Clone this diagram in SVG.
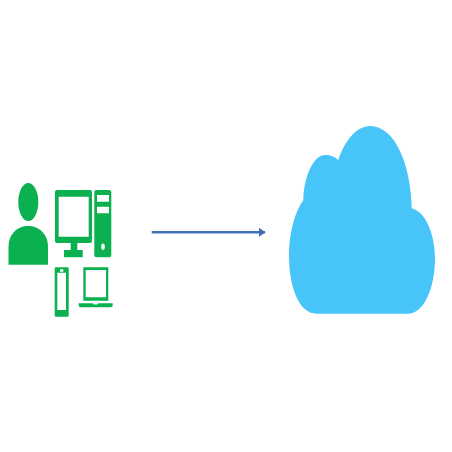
<svg xmlns="http://www.w3.org/2000/svg" width="452" height="452" viewBox="0 0 452 452">
<style>.g{fill:#0cb14f}.h{fill:#fff}.c{stroke:#4472b8;stroke-width:2.4;fill:none}</style>
<defs><marker id="a" markerUnits="userSpaceOnUse" markerWidth="7" markerHeight="9" refX="6" refY="4.5" orient="auto"><path d="M0 0L6.5 4.5L0 9Z" fill="#3f6db5"/></marker></defs>
<rect width="452" height="452" fill="#fff"/>
<g id="user"><ellipse class="g" cx="28.3" cy="202" rx="10" ry="19"/><path class="g" d="M8.5 264.7V247C8.500 234 17 226 28 226C39 226 48 234 48 247V264.700Z"/></g>
<g id="desktop">
<path class="g" fill-rule="evenodd" d="M57 190H90Q92 190 92 192V241Q92 243 90 243H57Q55 243 55 241V192Q55 190 57 190ZM58.700 196.700V236.700H88.700V196.700Z"/>
<path class="g" d="M70.700 243H77.300V250H82.700V257.300H64V250H70.700Z"/>
<path class="g" fill-rule="evenodd" d="M96.300 190H109.300Q111.300 190 111.300 192V255.300Q111.300 257.300 109.300 257.300H96.300Q94.300 257.300 94.300 255.300V192Q94.300 190 96.300 190ZM97 195V201.700H109V195ZM97 206.700V213.300H109V206.700Z"/>
<ellipse class="h" cx="103" cy="246.700" rx="1.800" ry="3.300"/>
</g>
<g id="phone"><path class="g" fill-rule="evenodd" d="M56 267.300H67.500Q68.700 267.300 68.700 268.500V315.500Q68.700 316.700 67.500 316.700H56Q54.700 316.700 54.700 315.500V268.500Q54.700 267.300 56 267.300ZM60 269.300V271.700H63.300V269.300ZM57.300 272.700V310H66V272.700Z"/></g>
<g id="laptop"><path class="g" fill-rule="evenodd" d="M83.300 267.300H108.300V300.700H83.300ZM85.700 270V297.300H106V270Z"/><path class="g" d="M78.700 303.300H92.500L94 304.500H97L98.500 303.300H112.700V305.500Q112.700 307.300 110.500 307.300H81Q78.700 307.300 78.700 305.500Z"/></g>
<g id="connectors"><path class="c" d="M151.700 232.300H265" marker-end="url(#a)"/></g>
<g id="cloud"><path fill="#47c4f8" d="M316.700 313.700C298 313.700 289 285 289 255C289 232 295 212 303.300 200C304 175 314 155 325 155C331 155 335 157 338.300 160C345 140 357 126 370 126C395 126 411 165 411.700 208.300C426 212 435 235 435 258.300C435 288 424 313.700 408.300 313.700Z"/></g>
</svg>
